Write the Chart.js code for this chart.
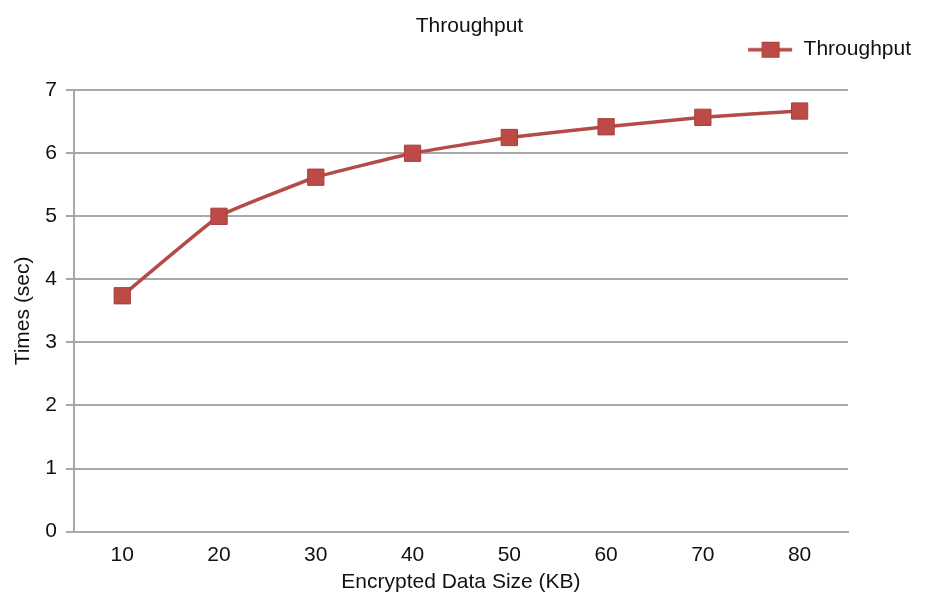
<!DOCTYPE html>
<html>
<head>
<meta charset="utf-8">
<script src="https://cdn.jsdelivr.net/npm/chart.js@4.4.0/dist/chart.umd.min.js"></script>
<style>
  html, body { margin: 0; padding: 0; background: #fff; }
  #wrap { width: 928px; height: 599px; }
</style>
</head>
<body>
<div id="wrap"><canvas id="c" width="928" height="599"></canvas></div>
<script>
const sizes = ['10', '20', '30', '40', '50', '60', '70', '80'];
const throughput = [3.74, 5.0, 5.62, 6.0, 6.25, 6.42, 6.57, 6.67];
const yTicks = [0, 1, 2, 3, 4, 5, 6, 7];

const lineColor = '#b54b47';
const markerFill = '#bd4a47';
const markerEdge = '#a53f3c';
const gridColor = '#a8a8a8';
const font = 'Liberation Sans, Arial, sans-serif';
const fs = 21;

// legend swatch: short line with a square in the middle
const swatch = document.createElement('canvas');
swatch.width = 46; swatch.height = 18;
(function () {
  const g = swatch.getContext('2d');
  g.strokeStyle = lineColor; g.lineWidth = 3.5;
  g.beginPath(); g.moveTo(1, 9); g.lineTo(45, 9); g.stroke();
  g.fillStyle = markerFill; g.strokeStyle = markerEdge; g.lineWidth = 1;
  g.fillRect(15, 1.5, 17, 15); g.strokeRect(15, 1.5, 17, 15);
})();

// place the title over the canvas centre and the legend at the top right corner
const headerShift = {
  id: 'headerShift',
  afterLayout(chart) {
    const t = chart.titleBlock;
    if (t) { t.left += 40; t.right += 40; }
    const lg = chart.legend;
    const dx = 78, dy = -20;
    lg.left += dx; lg.right += dx;
    lg.top += dy; lg.bottom += dy;
    if (lg.adjustHitBoxes) lg.adjustHitBoxes();
  }
};

new Chart(document.getElementById('c'), {
  type: 'line',
  data: {
    labels: sizes,
    datasets: [{
      label: 'Throughput',
      data: throughput,
      borderColor: lineColor,
      borderWidth: 3.5,
      backgroundColor: markerFill,
      pointStyle: 'rect',
      pointRadius: 11.5,
      pointBorderColor: markerEdge,
      pointBorderWidth: 1,
      pointBackgroundColor: markerFill,
      tension: 0.1,
      fill: false
    }]
  },
  options: {
    responsive: false,
    animation: false,
    layout: { padding: { left: 11, right: 80, top: 0, bottom: 4 } },
    plugins: {
      title: {
        display: true,
        text: 'Throughput',
        color: '#111',
        font: { family: font, size: fs, weight: 'normal' },
        padding: { top: 14, bottom: 5 }
      },
      legend: {
        display: true,
        position: 'top',
        align: 'end',
        labels: {
          color: '#111',
          font: { family: font, size: fs },
          usePointStyle: true,
          pointStyle: swatch,
          pointStyleWidth: 46,
          padding: 15
        }
      },
      tooltip: { enabled: false }
    },
    scales: {
      x: {
        offset: true,
        grid: { display: false, drawTicks: false },
        border: { display: true, color: gridColor, width: 2 },
        ticks: { color: '#111', font: { family: font, size: fs }, padding: 11 },
        title: {
          display: true,
          text: 'Encrypted Data Size (KB)',
          color: '#111',
          font: { family: font, size: fs },
          padding: { top: -9, bottom: 0 }
        }
      },
      y: {
        min: 0,
        max: 7,
        afterBuildTicks(scale) { scale.ticks = yTicks.map(v => ({ value: v })); },
        grid: { color: gridColor, lineWidth: 2, tickLength: 8 },
        border: { display: true, color: gridColor, width: 2 },
        ticks: { color: '#111', font: { family: font, size: fs }, padding: 9 },
        title: {
          display: true,
          text: 'Times (sec)',
          color: '#111',
          font: { family: font, size: fs },
          padding: { top: 0, bottom: 0 }
        }
      }
    }
  },
  plugins: [headerShift]
});
</script>
</body>
</html>
